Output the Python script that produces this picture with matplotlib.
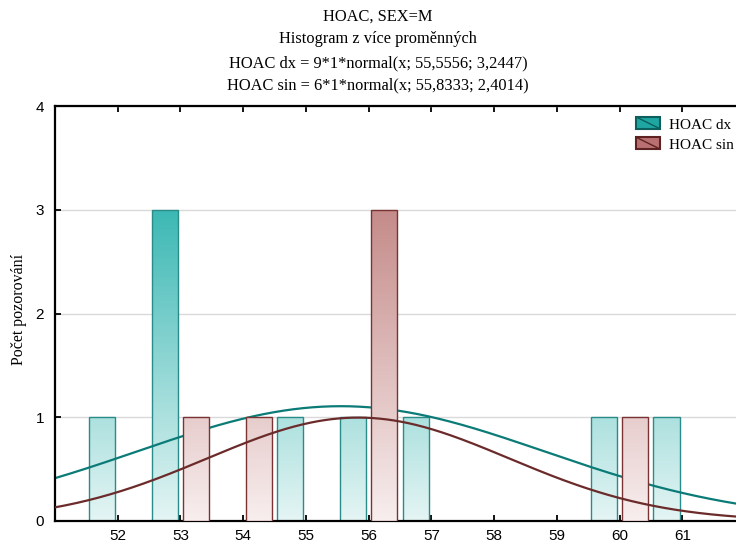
import numpy as np
import matplotlib
matplotlib.use("Agg")
import matplotlib.pyplot as plt
from matplotlib.colors import LinearSegmentedColormap
from matplotlib.patches import Rectangle
from matplotlib.lines import Line2D
from matplotlib.legend_handler import HandlerBase

# data
bin_centers = [52, 53, 54, 55, 56, 57, 58, 59, 60, 61]
dx_counts = [1, 3, 0, 1, 1, 1, 0, 0, 1, 1]
sin_counts = [0, 1, 1, 0, 3, 0, 0, 0, 1, 0]
dx_fit = (9, 55.5556, 3.2447)
sin_fit = (6, 55.8333, 2.4014)

title_lines = ["HOAC, SEX=M",
               "Histogram z více proměnných",
               "HOAC dx = 9*1*normal(x; 55,5556; 3,2447)",
               "HOAC sin = 6*1*normal(x; 55,8333; 2,4014)"]

teal_cmap = LinearSegmentedColormap.from_list("teal", ["#e4f5f4", "#3cb8b4"])
rose_cmap = LinearSegmentedColormap.from_list("rose", ["#f8eeee", "#c48b89"])
teal_edge, rose_edge = "#2a8c88", "#7a3333"
teal_line, rose_line = "#0b7b77", "#6c2b2b"

serif = "Liberation Serif"
sans = "Liberation Sans"

fig = plt.figure(figsize=(7.36, 5.46), dpi=100)
ax = fig.add_axes([55 / 736, 25 / 546, 690 / 736, 415 / 546])

grad = np.linspace(0, 4, 400).reshape(-1, 1)


def gradient_bars(x0s, heights, width, cmap, edge, z):
    for x0, h in zip(x0s, heights):
        if h <= 0:
            continue
        im = ax.imshow(grad, extent=[x0, x0 + width, 0, 4], origin="lower",
                       cmap=cmap, vmin=0, vmax=3, aspect="auto", zorder=z)
        r = Rectangle((x0, 0), width, h, fill=False, edgecolor=edge, lw=1.0, zorder=z + 0.1)
        ax.add_patch(r)
        im.set_clip_path(r)


def normal_curve(n, mu, sd, x):
    return n * np.exp(-0.5 * ((x - mu) / sd) ** 2) / (sd * np.sqrt(2 * np.pi))


centers = np.array(bin_centers, dtype=float)
xs = np.linspace(51, 62, 500)

gradient_bars(centers - 0.46, dx_counts, 0.42, teal_cmap, teal_edge, 2)
ax.plot(xs, normal_curve(*dx_fit, xs), color=teal_line, lw=1.6, zorder=2.5)
gradient_bars(centers + 0.04, sin_counts, 0.42, rose_cmap, rose_edge, 3)
ax.plot(xs, normal_curve(*sin_fit, xs), color=rose_line, lw=1.6, zorder=3.5)

ax.set_xlim(51, 62)
ax.set_ylim(0, 4)
ax.set_xticks(bin_centers)
ax.set_yticks([0, 1, 2, 3, 4])
ax.yaxis.grid(True, color="#d9d9d9", lw=1.0, zorder=0)
ax.set_axisbelow(True)
for s in ["left", "bottom", "top"]:
    ax.spines[s].set_linewidth(1.6)
ax.spines["right"].set_visible(False)
ax.tick_params(direction="in", length=4, width=1.3, top=True, labelsize=11)
for lab in ax.get_xticklabels() + ax.get_yticklabels():
    lab.set_fontfamily(sans)
ax.tick_params(axis="y", pad=8)
ax.tick_params(axis="x", pad=6)

ax.set_ylabel("Počet pozorování", fontfamily=serif, fontsize=11.5)
ax.yaxis.set_label_coords(-28 / 690, 0.51)

ys = [17, 39, 63, 85]
for t, y in zip(title_lines, ys):
    fig.text(378 / 736, 1 - y / 546, t, ha="center", va="center",
             fontfamily=serif, fontsize=11.8)


class DiagHandler(HandlerBase):
    def create_artists(self, legend, orig, xd, yd, width, height, fontsize, trans):
        r = Rectangle((xd, yd), width, height, facecolor=orig.get_facecolor(),
                      edgecolor=orig.get_edgecolor(), lw=1.5, transform=trans)
        l = Line2D([xd, xd + width], [yd + height, yd], color=orig.get_edgecolor(),
                   lw=1.0, transform=trans)
        return [r, l]


h1 = Rectangle((0, 0), 1, 1, facecolor="#1fa6a2", edgecolor="#0c5f5c")
h2 = Rectangle((0, 0), 1, 1, facecolor="#b97070", edgecolor="#5e2222")
leg = ax.legend([h1, h2], ["HOAC dx", "HOAC sin"], loc="upper left",
                bbox_to_anchor=(581 / 690, 1 - 12 / 415), frameon=False,
                prop={"family": serif, "size": 11}, handlelength=1.55,
                handleheight=0.8, handletextpad=0.6, labelspacing=0.4,
                borderaxespad=0, borderpad=0,
                handler_map={Rectangle: DiagHandler()})

fig.savefig("out.png", dpi=100)
